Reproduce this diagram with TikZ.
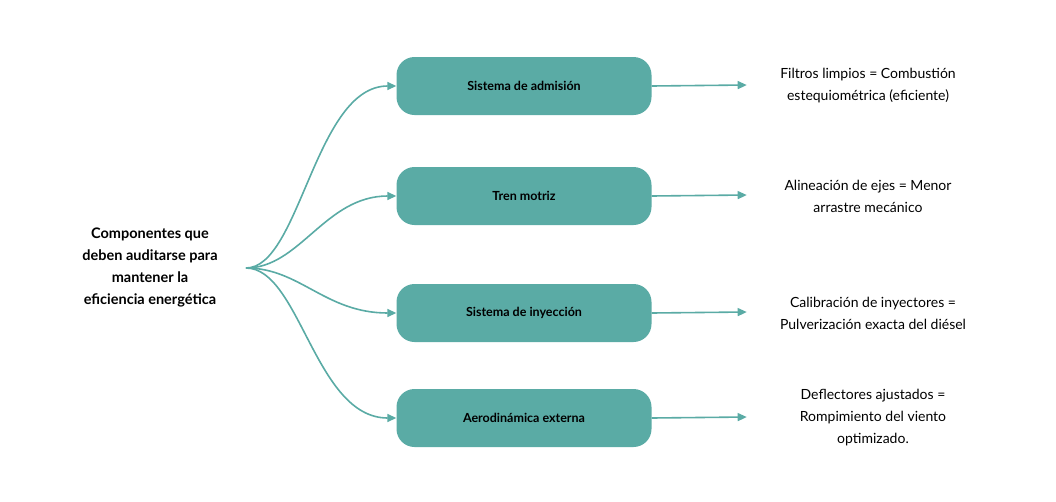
\documentclass[tikz,border=0pt]{standalone}
\usepackage{fontspec}
\setmainfont{Lato}
\usetikzlibrary{arrows.meta}
\definecolor{teal1}{HTML}{5AABA5}
\begin{document}
\begin{tikzpicture}[x=1pt,y=-1pt,
  box/.style={fill=teal1,rounded corners=18pt,minimum width=255pt,minimum height=58pt,font=\fontsize{12.5}{15}\selectfont\bfseries},
  lab/.style={align=center,font=\fontsize{14}{22}\selectfont},
  con/.style={draw=teal1,line width=1.6pt,-{Triangle[length=9pt,width=8pt]}}]
\useasboundingbox (0,0) rectangle (1056,501);
\node[align=center,font=\fontsize{14.5}{22}\selectfont\bfseries] (root) at (150,268) {Componentes que\\deben auditarse para\\mantener la\\eficiencia energética};
\coordinate (s) at (246,268);
\node[box] (b1) at (524,86) {Sistema de admisión};
\node[box] (b2) at (524,196) {Tren motriz};
\node[box] (b3) at (524,313) {Sistema de inyección};
\node[box] (b4) at (524,418) {Aerodinámica externa};
\node[lab] (t1) at (868,86) {Filtros limpios = Combustión\\estequiométrica (eficiente)};
\node[lab] (t2) at (868,196) {Alineación de ejes = Menor\\arrastre mecánico};
\node[lab] (t3) at (873,313) {Calibración de inyectores =\\Pulverización exacta del diésel};
\node[lab] (t4) at (873,418) {Deflectores ajustados =\\Rompimiento del viento\\optimizado.};
\draw[con] (s) .. controls (300,268) and (315,86) .. (b1.west);
\draw[con] (s) .. controls (300,268) and (325,196) .. (b2.west);
\draw[con] (s) .. controls (300,268) and (325,313) .. (b3.west);
\draw[con] (s) .. controls (300,268) and (315,418) .. (b4.west);
\foreach \i in {1,2,3,4}{\draw[con] (b\i.east) -- ++(95,-1);}
\end{tikzpicture}
\end{document}
